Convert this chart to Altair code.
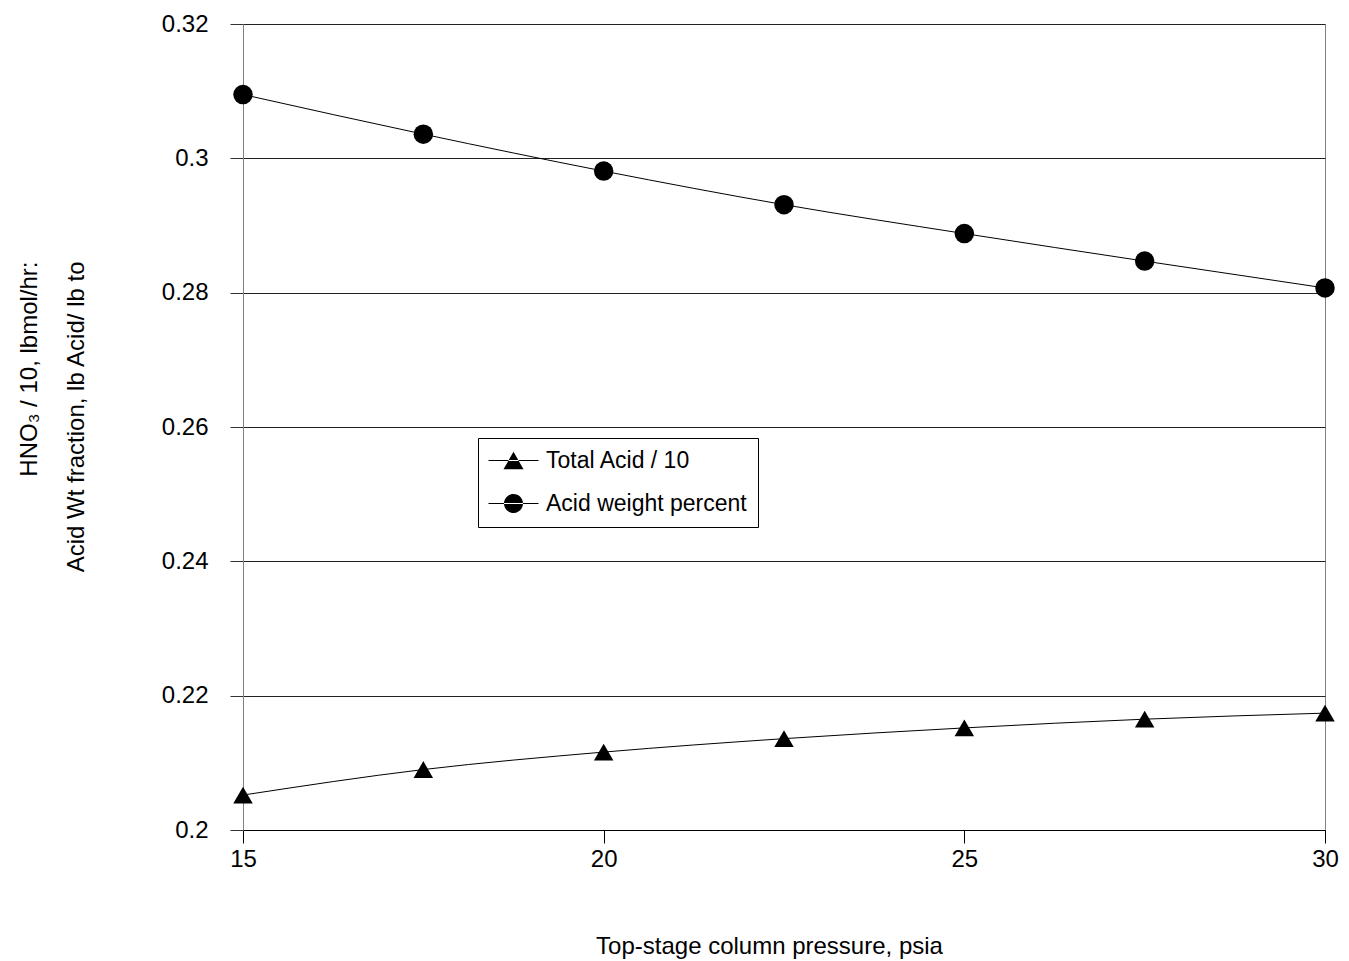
import altair as alt
import pandas as pd

# Top-stage column pressure, psia
pressure = [15, 17.5, 20, 22.5, 25, 27.5, 30]
# HNO3 total acid (lbmol/hr) divided by 10
total_acid = [0.2052, 0.2090, 0.2116, 0.2136, 0.2152, 0.2165, 0.2174]
# Acid weight fraction, lb acid / lb total
acid_wt = [0.3095, 0.3036, 0.2981, 0.2931, 0.2888, 0.2847, 0.2807]

series_names = ["Total Acid / 10", "Acid weight percent"]
marker_shapes = ["triangle-up", "circle"]
# legend keys: a thin bar (the line) through the marker, all filled
legend_shapes = [
    "M-2.5,-0.05H2.5V0.05H-2.5ZM0,-0.866L-1,0.866L1,0.866Z",
    "M-2.5,-0.05H2.5V0.05H-2.5ZM-0.95,0A0.95,0.95,0,1,0,0.95,0A0.95,0.95,0,1,0,-0.95,0Z",
]

x_ticks = [15, 20, 25, 30]
y_ticks = [0.2, 0.22, 0.24, 0.26, 0.28, 0.3, 0.32]

rows = []
for name, values in zip(series_names, [total_acid, acid_wt]):
    for p, v in zip(pressure, values):
        rows.append({"pressure": p, "value": v, "series": name, "key": name})
df = pd.DataFrame(rows)

FONT = "Liberation Sans"

x_enc = alt.X(
    "pressure:Q",
    scale=alt.Scale(domain=[15, 30], nice=False, zero=False),
    axis=alt.Axis(
        values=x_ticks,
        format="d",
        labelFlush=False,
        labelAlign="center",
        title="Top-stage column pressure, psia",
        grid=False,
        domainColor="black",
        tickColor="black",
        tickSize=13,
        labelPadding=4,
        titleX=526,
        titleY=123,
        titleBaseline="alphabetic",
    ),
)
y_enc = alt.Y(
    "value:Q",
    scale=alt.Scale(domain=[0.2, 0.32], nice=False, zero=False),
    axis=alt.Axis(
        values=y_ticks,
        format="~g",
        title=["HNO\u2083 / 10, lbmol/hr:", "Acid Wt fraction, lb Acid/ lb to"],
        grid=True,
        gridColor="#222222",
        gridWidth=1,
        gridOpacity=1,
        domainColor="#808080",
        tickColor="#333333",
        tickSize=13,
        labelPadding=22,
        titleAngle=270,
        titleAlign="right",
        titleBaseline="alphabetic",
        titleX=-207,
        titleY=237,
        titleLineHeight=47,
    ),
)

lines = alt.Chart(df).mark_line(
    color="black", strokeWidth=1, interpolate="monotone"
).encode(x=x_enc, y=y_enc, detail="series:N")

points = alt.Chart(df).mark_point(
    filled=True, color="black", opacity=1, size=380
).encode(
    x="pressure:Q",
    y="value:Q",
    shape=alt.Shape(
        "series:N",
        scale=alt.Scale(domain=series_names, range=marker_shapes),
        legend=None,
    ),
)

legend_layer = alt.Chart(df).mark_point(
    filled=True, color="black", opacity=0
).encode(
    x="pressure:Q",
    y="value:Q",
    shape=alt.Shape(
        "key:N",
        scale=alt.Scale(domain=series_names, range=legend_shapes),
        legend=alt.Legend(
            title=None,
            orient="none",
            legendX=235,
            legendY=414,
            padding=11,
            strokeColor="black",
            fillColor="white",
            symbolSize=400,
            symbolOpacity=1,
            symbolFillColor="black",
            symbolStrokeWidth=0,
            symbolOffset=13,
            labelOffset=21,
            labelFontSize=23,
            labelFont=FONT,
            labelColor="black",
            labelLimit=500,
            rowPadding=19,
        ),
    ),
)

chart = (
    alt.layer(lines, points, legend_layer)
    .resolve_scale(shape="independent")
    .properties(
        width=1082,
        height=806,
        autosize=alt.AutoSizeParams(type="none"),
        padding={"left": 243, "top": 24, "right": 24, "bottom": 131},
        background="white",
    )
    .configure_view(stroke="#808080", strokeWidth=1)
    .configure_axis(
        labelFont=FONT,
        titleFont=FONT,
        labelFontSize=24,
        titleFontSize=24,
        titleFontWeight="normal",
        labelColor="black",
        titleColor="black",
    )
)

chart.save("out.html", embed_options={"renderer": "svg", "actions": False})
